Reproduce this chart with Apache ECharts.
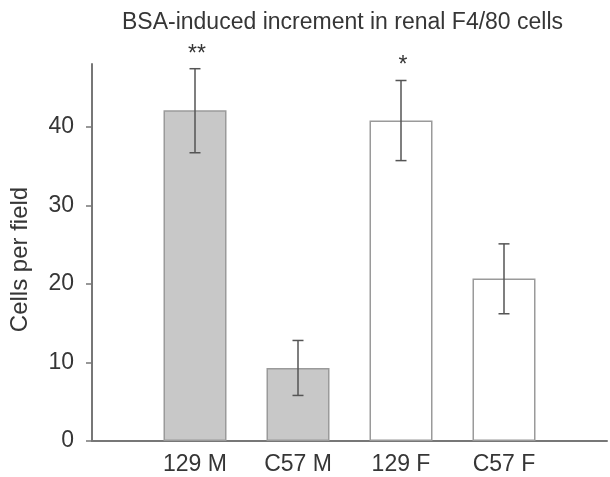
<!DOCTYPE html>
<html>
<head>
<meta charset="utf-8">
<script src="https://cdn.jsdelivr.net/npm/echarts@6/dist/echarts.min.js"></script>
<style>
    html, body { margin: 0; padding: 0; background: #fff; }
    #chart { width: 610px; height: 477px; }
</style>
</head>
<body>
<div id="chart"></div>
<script>
// values
const categories = ['129 M', 'C57 M', '129 F', 'C57 F']
const means = [42.1, 9.3, 40.8, 20.7]
const errLow = [36.7, 5.8, 35.7, 16.2]
const errHigh = [47.4, 12.8, 45.9, 25.1]
const marks = ['**', '', '*', '']
const fills = ['#c8c8c8', '#c8c8c8', '#ffffff', '#ffffff']
const yTicks = [0, 10, 20, 30, 40]

const font = 'Liberation Sans, Arial, sans-serif'
const textColor = '#363636'

// the axis has an empty slot at each end, bars sit on the inner points
const axisData = [''].concat(categories, [''])
const barData = ['-'].concat(
    means.map((v, i) => ({
        value: v,
        itemStyle: { color: fills[i] }
    })),
    ['-']
)
const errData = categories.map((c, i) => [i + 1, errLow[i], errHigh[i], marks[i]])

const chart = echarts.init(document.getElementById('chart'))

chart.setOption({
    animation: false,
    title: {
        text: 'BSA-induced increment in renal F4/80 cells',
        left: 122,
        top: 11,
        padding: 0,
        textStyle: { fontFamily: font, fontSize: 23, fontWeight: 'normal', color: textColor }
    },
    grid: { left: 89, right: 0, top: 64, bottom: 36 },
    xAxis: {
        type: 'category',
        data: axisData,
        boundaryGap: false,
        axisLine: { lineStyle: { color: '#777', width: 2 } },
        axisTick: { show: false },
        axisLabel: { fontFamily: font, fontSize: 23, color: textColor, margin: 12, interval: 0 }
    },
    yAxis: {
        type: 'value',
        min: 0,
        max: 48,
        name: 'Cells per field',
        nameLocation: 'middle',
        nameGap: 60,
        nameTextStyle: { fontFamily: font, fontSize: 24, color: textColor, padding: [0, 14, 0, 0] },
        splitLine: { show: false },
        axisLine: { show: true, lineStyle: { color: '#777', width: 2 } },
        axisTick: { show: true, length: 6, customValues: yTicks, lineStyle: { color: '#777', width: 1.5 } },
        axisLabel: { customValues: yTicks, fontFamily: font, fontSize: 23, color: textColor, margin: 18 }
    },
    series: [
        {
            type: 'bar',
            data: barData,
            barWidth: 63,
            itemStyle: { borderColor: '#9a9a9a', borderWidth: 1.5 }
        },
        {
            type: 'custom',
            data: errData,
            z: 5,
            renderItem: function (params, api) {
                const top = api.coord([api.value(0), api.value(2)])
                const bot = api.coord([api.value(0), api.value(1)])
                const x = top[0]
                const cap = 5.5
                const style = { stroke: '#555', lineWidth: 1.5 }
                return {
                    type: 'group',
                    children: [
                        { type: 'line', shape: { x1: x, y1: top[1], x2: x, y2: bot[1] }, style: style },
                        { type: 'line', shape: { x1: x - cap, y1: top[1], x2: x + cap, y2: top[1] }, style: style },
                        { type: 'line', shape: { x1: x - cap, y1: bot[1], x2: x + cap, y2: bot[1] }, style: style },
                        {
                            type: 'text',
                            style: {
                                x: x + 2,
                                y: top[1] - 3,
                                text: marks[params.dataIndex],
                                align: 'center',
                                verticalAlign: 'bottom',
                                font: '23px ' + font,
                                fill: textColor
                            }
                        }
                    ]
                }
            }
        }
    ]
})
</script>
</body>
</html>
